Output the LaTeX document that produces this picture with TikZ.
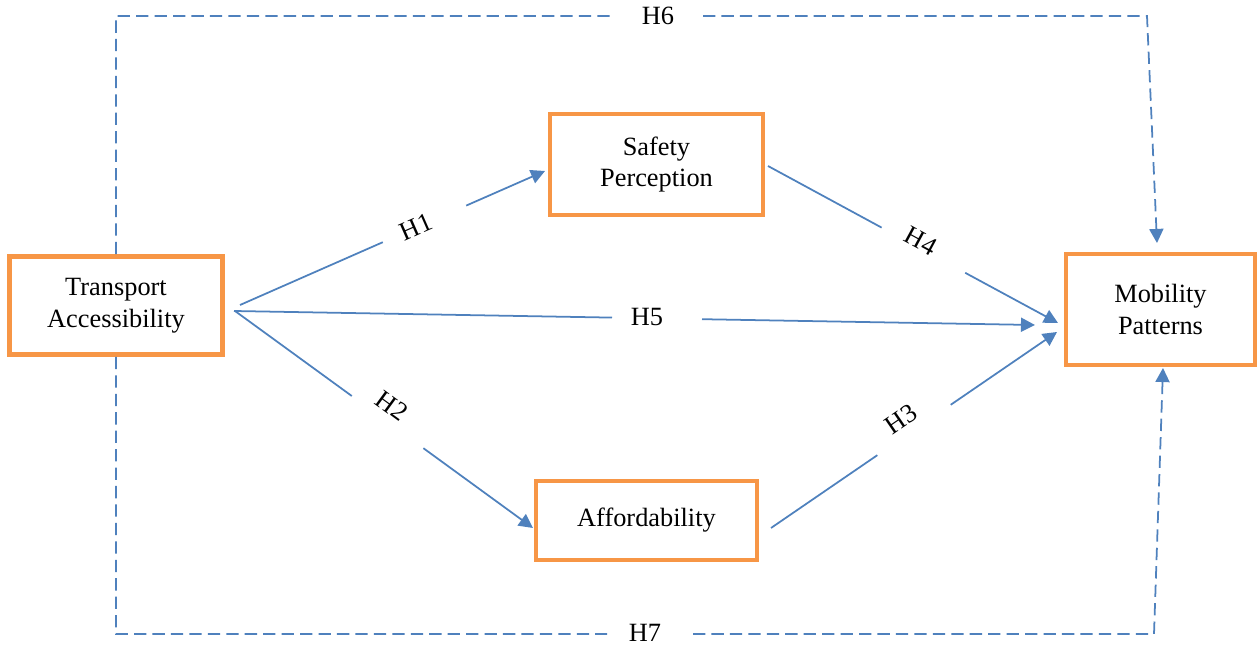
\documentclass[tikz,border=0pt]{standalone}
\usepackage{fontspec}
\setmainfont{Liberation Serif}
\usetikzlibrary{arrows.meta}
\definecolor{boxorange}{HTML}{F79646}
\definecolor{linkblue}{HTML}{4F81BD}
\begin{document}
\begin{tikzpicture}[x=0.02cm,y=-0.02cm,
  box/.style={draw=boxorange, line width=2.7pt, fill=white, align=center, inner sep=0pt,
              font=\fontsize{15}{18}\selectfont},
  link/.style={draw=linkblue, line width=1pt, -{Triangle[length=8pt,width=8pt]}},
  dlink/.style={link, dash pattern=on 7pt off 3.5pt},
  hyp/.style={font=\fontsize{15}{18}\selectfont, inner sep=0pt}]
\useasboundingbox (0,0) rectangle (1258,645);

% boxes
\node[box, minimum width=4.26cm, minimum height=1.96cm] (ta) at (116,305.5) {Transport\\Accessibility};
\node[box, minimum width=4.26cm, minimum height=2.02cm] (sp) at (656.5,164.5) {Safety\\Perception};
\node[box, minimum width=4.42cm, minimum height=1.58cm] (af) at (646.5,520.5) {Affordability};
\node[box, minimum width=3.78cm, minimum height=2.22cm] (mp) at (1160.5,309.5) {Mobility\\Patterns};

% connector end points
\coordinate (ta-h1) at (240,305);
\coordinate (ta-h2) at (235,311);
\coordinate (ta-h5) at (234,311);
\coordinate (sp-in) at (545,171);
\coordinate (sp-out) at (768,166);
\coordinate (af-in) at (533,528);
\coordinate (af-out) at (771,528);
\coordinate (mp-h4) at (1058,323);
\coordinate (mp-h5) at (1035,325);
\coordinate (mp-h3) at (1057,332);
\coordinate (h6-corner) at (1147,16);
\coordinate (mp-top) at (1157,243);
\coordinate (h7-corner) at (1154,634);
\coordinate (mp-bot) at (1163,368);

% label gaps
\coordinate (h1-a) at (382.8,242.2); \coordinate (h1-b) at (466.2,205.6);
\coordinate (h2-a) at (351.8,396.0); \coordinate (h2-b) at (423.4,448.2);
\coordinate (h5-a) at (612,317.6);   \coordinate (h5-b) at (702,319.2);
\coordinate (h4-a) at (881.6,227.6); \coordinate (h4-b) at (965.2,272.8);
\coordinate (h3-a) at (877.3,455.2); \coordinate (h3-b) at (950.7,404.8);
\coordinate (h6-a) at (615,16);      \coordinate (h6-b) at (703,16);
\coordinate (h7-a) at (607,634);     \coordinate (h7-b) at (693,634);

% solid connectors
\draw[link] (ta-h1) -- (h1-a) (h1-b) -- (sp-in);
\draw[link] (ta-h2) -- (h2-a) (h2-b) -- (af-in);
\draw[link] (ta-h5) -- (h5-a) (h5-b) -- (mp-h5);
\draw[link] (sp-out) -- (h4-a) (h4-b) -- (mp-h4);
\draw[link] (af-out) -- (h3-a) (h3-b) -- (mp-h3);

% dashed connectors
\draw[dlink] (ta.north) -- (ta.north |- h6-a) -- (h6-a) (h6-b) -- (h6-corner) -- (mp-top);
\draw[dlink] (ta.south) -- (ta.south |- h7-a) -- (h7-a) (h7-b) -- (h7-corner) -- (mp-bot);

% hypothesis labels
\node[hyp, rotate=23.7] (h1) at (416,227) {H1};
\node[hyp, rotate=-36.1] (h2) at (392,406) {H2};
\node[hyp] (h5) at (647,317) {H5};
\node[hyp, rotate=-28.4] (h4) at (921,241) {H4};
\node[hyp, rotate=34.4] (h3) at (901,419) {H3};
\node[hyp] (h6) at (658,16) {H6};
\node[hyp] (h7) at (645,633) {H7};
\end{tikzpicture}
\end{document}
